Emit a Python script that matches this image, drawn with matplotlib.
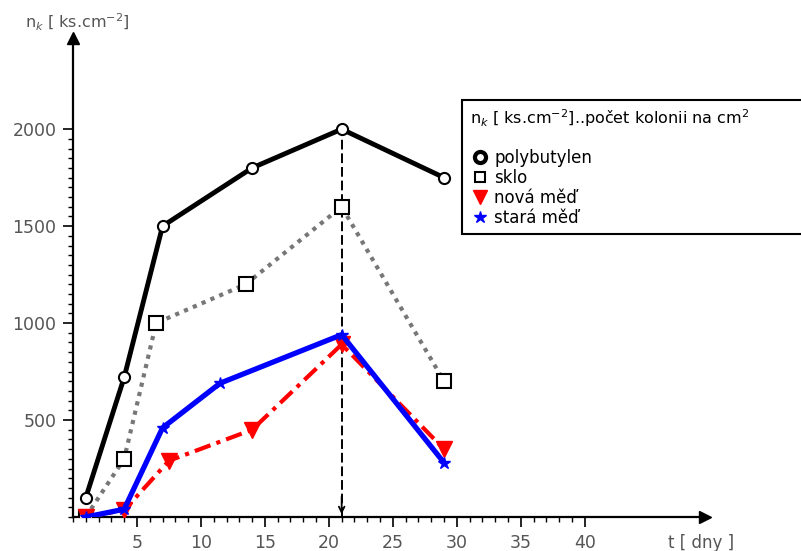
import matplotlib.pyplot as plt
from matplotlib.lines import Line2D
from matplotlib.ticker import FixedLocator, NullFormatter

# data (t in days, n_k in ks/cm2)
t_poly = [1, 4, 7, 14, 21, 29]
n_poly = [100, 720, 1500, 1800, 2000, 1750]

t_sklo = [1, 4, 6.5, 13.5, 21, 29]
n_sklo = [0, 300, 1000, 1200, 1600, 700]

t_nova = [1, 4, 7.5, 14, 21, 29]
n_nova = [0, 35, 290, 450, 890, 350]

t_stara = [1, 4, 7, 11.5, 21, 29]
n_stara = [0, 40, 460, 690, 940, 280]

labels = ["polybutylen", "sklo", "nová měď", "stará měď"]
t_peak = 21
n_peak = 2000

x_major = [5, 10, 15, 20, 25, 30, 35, 40]
y_major = [500, 1000, 1500, 2000]

plt.rcParams["font.family"] = ["DejaVu Sans"]

fig = plt.figure(figsize=(8.01, 5.51), dpi=100)
ax = fig.add_axes([73 / 801, 1 - 517 / 551, (705 - 73) / 801, (517 - 38) / 551])
ax.set_xlim(0, 49.4)
ax.set_ylim(0, 2470)

ax.plot(t_poly, n_poly, color="black", lw=3.5, marker="o", ms=8,
        mfc="white", mec="black", mew=1.5, zorder=5)
ax.plot(t_sklo, n_sklo, color="#777777", lw=3, linestyle=(0, (1, 1.3)),
        marker="s", ms=10, mfc="white", mec="black", mew=1.5, zorder=4)
ax.plot(t_nova, n_nova, color="red", lw=3, linestyle=(0, (4, 1.5, 1, 1.5)),
        marker="v", ms=11, mfc="red", mec="red", zorder=6)
ax.plot(t_stara, n_stara, color="blue", lw=3.8, marker="*", ms=9,
        mfc="blue", mec="blue", zorder=7)

# dashed line from the maximum down to the t axis
ax.vlines(t_peak, 0, n_peak, colors="black", linestyles=(0, (5, 2)), lw=1.4, zorder=3)
ax.annotate("", xy=(t_peak, 0), xytext=(t_peak, 120),
            arrowprops=dict(arrowstyle="->", lw=1.3, color="black"))

# axes as arrows
for s in ["top", "right"]:
    ax.spines[s].set_visible(False)
ax.spines["left"].set_linewidth(1.6)
ax.spines["bottom"].set_linewidth(1.6)
ax.plot(0, 1, "^k", ms=9, transform=ax.transAxes, clip_on=False)
ax.plot(1, 0, ">k", ms=9, transform=ax.transAxes, clip_on=False)

ax.xaxis.set_major_locator(FixedLocator(x_major))
ax.xaxis.set_minor_locator(FixedLocator(range(0, 41)))
ax.yaxis.set_major_locator(FixedLocator(y_major))
ax.yaxis.set_minor_locator(FixedLocator(range(0, 2001, 50)))
ax.xaxis.set_minor_formatter(NullFormatter())
ax.tick_params(axis="both", which="major", direction="out", length=7, width=1.2,
               labelsize=12.5, labelcolor="#555555", pad=5)
ax.tick_params(axis="both", which="minor", direction="out", length=3.5, width=1)

fig.text(25 / 801, 1 - 22 / 551, r"n$_k$ [ ks.cm$^{-2}$]", fontsize=11.5,
         color="#555555", va="center")
fig.text(668 / 801, 1 - 543 / 551, "t [ dny ]", fontsize=12,
         color="#555555", va="center")

handles = [
    Line2D([], [], linestyle="none", marker="o", ms=8, mfc="white", mec="black", mew=3),
    Line2D([], [], linestyle="none", marker="s", ms=7, mfc="white", mec="black", mew=1.5),
    Line2D([], [], linestyle="none", marker="v", ms=10, color="red"),
    Line2D([], [], linestyle="none", marker="*", ms=9, color="blue"),
]
leg = ax.legend(handles, labels,
                title=r"n$_k$ [ ks.cm$^{-2}$]..počet kolonii na cm$^2$" + "\n",
                loc="upper left",
                bbox_to_anchor=(462 / 801, 1 - 245 / 551, (830 - 462) / 801, 145 / 551),
                mode="expand", bbox_transform=fig.transFigure, borderaxespad=0,
                fontsize=12, title_fontsize=11.5, alignment="left", fancybox=False,
                framealpha=1, edgecolor="black", handletextpad=0.3,
                handlelength=1.2, labelspacing=0.12, borderpad=0.45)
leg.get_frame().set_linewidth(1.5)

fig.savefig("out.png", dpi=100)
